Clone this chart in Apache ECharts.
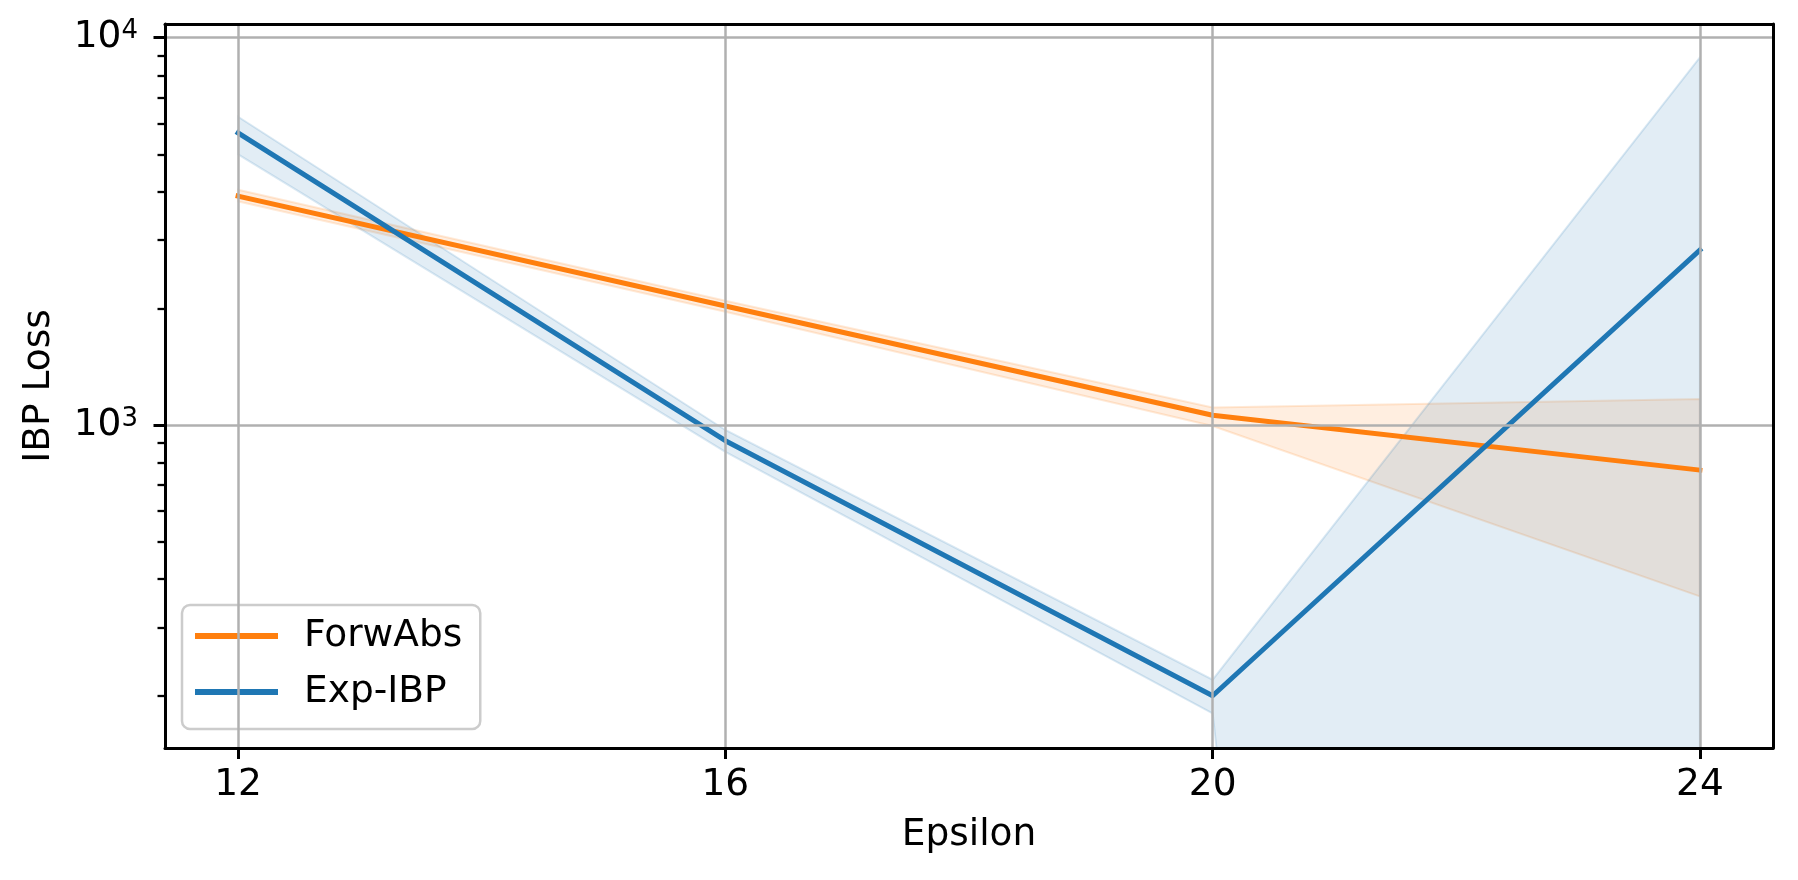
<!DOCTYPE html>
<html>
<head>
<meta charset="utf-8">
<script src="https://cdn.jsdelivr.net/npm/echarts@6/dist/echarts.min.js"></script>
<style>
html,body{margin:0;padding:0;background:#fff;}
#chart{width:1798px;height:880px;}
</style>
</head>
<body>
<div id="chart"></div>
<script>
// ---- data ----
const epsilon = [12, 16, 20, 24];
const forwAbsMean  = [3900, 2030, 1060, 765];
const forwAbsLower = [3780, 1960, 994, 361];
const forwAbsUpper = [4050, 2093, 1110, 1167];
const expIbpMean   = [5680, 911, 200, 2830];
const expIbpLower  = [5000, 853, 180, 1e-9]; // lower bound non-positive at 24 (clipped on log axis)
const expIbpUpper  = [6250, 971, 220, 8900];
const xTicks = [12, 16, 20, 24];
const yMajorTicks = [1000, 10000];
const yMinorTicks = [200, 300, 400, 500, 600, 700, 800, 900, 2000, 3000, 4000, 5000, 6000, 7000, 8000, 9000];

const FONT = 'DejaVu Sans';
const BLUE = '#1f77b4';
const ORANGE = '#ff7f0e';

function bandRender(lower, upper, fill, stroke) {
  return function (params, api) {
    if (params.dataIndex !== 0) return;
    const pts = [];
    for (let i = 0; i < epsilon.length; i++) pts.push(api.coord([epsilon[i], upper[i]]));
    for (let i = epsilon.length - 1; i >= 0; i--) pts.push(api.coord([epsilon[i], lower[i]]));
    const cs = params.coordSys;
    return {
      type: 'polygon',
      shape: { points: pts },
      style: { fill: fill, stroke: stroke, lineWidth: 2 },
      clipPath: { type: 'rect', shape: { x: cs.x, y: cs.y, width: cs.width, height: cs.height } }
    };
  };
}

const chart = echarts.init(document.getElementById('chart'), null, { renderer: 'canvas' });
const option = {
  animation: false,
  backgroundColor: '#ffffff',
  grid: { left: 165, right: 25, top: 24, bottom: 132 },
  legend: {
    orient: 'vertical',
    left: 182, top: 605,
    padding: [11, 18, 17, 13],
    itemGap: 16,
    itemWidth: 83, itemHeight: 6,
    backgroundColor: 'rgba(255,255,255,0.8)',
    borderColor: '#cccccc', borderWidth: 2.5, borderRadius: 8,
    textStyle: { fontFamily: FONT, fontSize: 37.5, color: '#000', lineHeight: 40, padding: [0, 0, 0, 21] },
    itemStyle: { borderWidth: 0 },
    data: [{ name: 'ForwAbs', icon: 'rect' }, { name: 'Exp-IBP', icon: 'rect' }]
  },
  xAxis: [{
    type: 'value', min: 11.4, max: 24.6,
    name: 'Epsilon', nameLocation: 'middle', nameGap: 68,
    nameTextStyle: { fontFamily: FONT, fontSize: 37.5, color: '#000' },
    axisLine: { show: true, onZero: false, lineStyle: { color: '#000', width: 3 } },
    axisTick: { show: true, customValues: xTicks, length: 11, lineStyle: { color: '#000', width: 3 } },
    axisLabel: { customValues: xTicks, margin: 18, fontFamily: FONT, fontSize: 37.5, color: '#000' },
    splitLine: { show: true, lineStyle: { color: '#b0b0b0', width: 2.5 } },
    z: 5
  }, {
    type: 'value', position: 'top', min: 11.4, max: 24.6,
    axisLine: { show: true, onZero: false, lineStyle: { color: '#000', width: 3 } },
    axisTick: { show: false }, axisLabel: { show: false }, splitLine: { show: false },
    z: 5
  }],
  yAxis: [{
    type: 'log', logBase: 10, min: 146.6, max: 10850,
    name: 'IBP Loss', nameLocation: 'middle', nameGap: 107,
    nameTextStyle: { fontFamily: FONT, fontSize: 37.5, color: '#000' },
    axisLine: { show: true, onZero: false, lineStyle: { color: '#000', width: 3 } },
    axisTick: { show: true, customValues: yMajorTicks, length: 11.5, lineStyle: { color: '#000', width: 3 } },
    axisLabel: {
      customValues: yMajorTicks, margin: 27,
      formatter: function (v) { return '{b|10}{s|' + Math.round(Math.log10(v)) + '}'; },
      rich: {
        b: { fontFamily: FONT, fontSize: 37.5, color: '#000' },
        s: { fontFamily: FONT, fontSize: 26, color: '#000', verticalAlign: 'top' }
      }
    },
    splitLine: { show: true, lineStyle: { color: '#b0b0b0', width: 2.5 } },
    z: 5
  }, {
    type: 'log', logBase: 10, min: 146.6, max: 10850, position: 'left',
    axisLine: { show: false },
    axisTick: { show: true, customValues: yMinorTicks, length: 7.5, lineStyle: { color: '#000', width: 2.3 } },
    axisLabel: { show: false }, splitLine: { show: false },
    z: 5
  }, {
    type: 'value', position: 'right', min: 0, max: 1,
    axisLine: { show: true, onZero: false, lineStyle: { color: '#000', width: 3 } },
    axisTick: { show: false }, axisLabel: { show: false }, splitLine: { show: false },
    z: 5
  }],
  series: [
    {
      type: 'custom', name: 'ForwAbs band', clip: true, silent: true, z: 1,
      renderItem: bandRender(forwAbsLower, forwAbsUpper, 'rgba(255,127,14,0.13)', 'rgba(255,127,14,0.16)'),
      data: epsilon.map((x, i) => [x, forwAbsLower[i], forwAbsUpper[i]]),
      encode: { x: 0, y: [1, 2] }
    },
    {
      type: 'custom', name: 'Exp-IBP band', clip: true, silent: true, z: 1,
      renderItem: bandRender(expIbpLower, expIbpUpper, 'rgba(31,119,180,0.13)', 'rgba(31,119,180,0.16)'),
      data: epsilon.map((x, i) => [x, expIbpLower[i], expIbpUpper[i]]),
      encode: { x: 0, y: [1, 2] }
    },
    {
      type: 'line', name: 'ForwAbs', color: ORANGE, symbol: 'none', z: 3,
      lineStyle: { color: ORANGE, width: 5, cap: 'square', join: 'round' },
      data: epsilon.map((x, i) => [x, forwAbsMean[i]])
    },
    {
      type: 'line', name: 'Exp-IBP', color: BLUE, symbol: 'none', z: 3,
      lineStyle: { color: BLUE, width: 5, cap: 'square', join: 'round' },
      data: epsilon.map((x, i) => [x, expIbpMean[i]])
    }
  ]
};
chart.setOption(option);
</script>
</body>
</html>
